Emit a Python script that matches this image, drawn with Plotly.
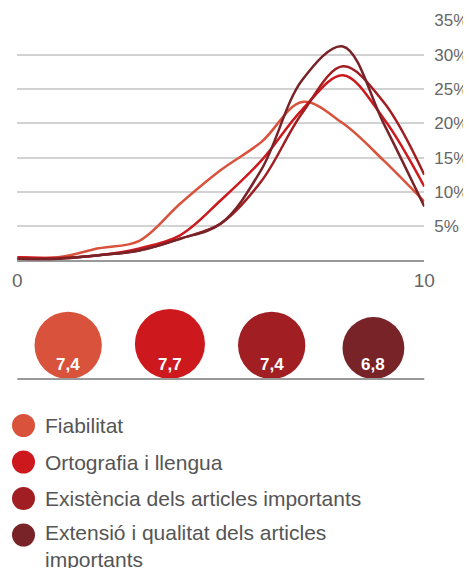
import plotly.graph_objects as go

# puntuacions 0..10 i percentatge de respostes
puntuacio = list(range(11))
fiabilitat = [0.5, 0.5, 1.8, 2.9, 8.3, 13.2, 17.3, 23.1, 20.0, 14.6, 8.6]
ortografia = [0.5, 0.4, 0.8, 1.8, 3.7, 8.8, 14.6, 22.0, 27.0, 20.7, 10.8]
existencia = [0.3, 0.3, 0.8, 1.5, 3.2, 5.4, 11.6, 21.5, 28.3, 23.1, 12.5]
extensio = [0.3, 0.3, 0.8, 1.5, 3.2, 5.4, 13.3, 26.3, 31.2, 20.0, 7.9]

noms = ['Fiabilitat', 'Ortografia i llengua', 'Existència dels articles importants',
        'Extensió i qualitat dels articles<br>importants']
mitjanes = [7.4, 7.7, 7.4, 6.8]
etiquetes_mitjana = ['7,4', '7,7', '7,4', '6,8']
y_ticks = [5, 10, 15, 20, 25, 30, 35]

colors = ['#d9523b', '#cd181d', '#a11e22', '#782328']
series = [fiabilitat, ortografia, existencia, extensio]

# la pagina te 8px de marge al body
OFF = 8
W, H = 471 - OFF, 568 - OFF
def px_x(p):
    return (p - OFF) / W
def px_y(p):
    return 1 - (p - OFF) / H

fig = go.Figure()
for s, c in zip(series, colors):
    fig.add_trace(go.Scatter(x=puntuacio, y=s, mode='lines', line=dict(color=c, width=2.5, shape='spline'),
                             showlegend=False, hoverinfo='skip'))

font = 'Liberation Sans, Arial, sans-serif'
x_dom = [px_x(17.3), px_x(424.3)]

fig.update_layout(
    width=W, height=H, margin=dict(l=0, r=0, t=0, b=0, autoexpand=False),
    paper_bgcolor='white', plot_bgcolor='white',
    font=dict(family=font, color='#666'),
    xaxis=dict(domain=x_dom, range=[0, 10], tickvals=[0, 10], ticktext=['0', '10'],
               showgrid=False, zeroline=False, showline=False, ticks='', automargin=False,
               tickfont=dict(size=19, color='#666'), ticklabelstandoff=6, fixedrange=True),
    yaxis=dict(domain=[px_y(260.7), px_y(20.3)], range=[0, 35], side='right', automargin=False,
               tickvals=y_ticks, ticktext=[f'{v}%' for v in y_ticks],
               showgrid=True, gridcolor='#d2d2d2', gridwidth=2,
               zeroline=True, zerolinecolor='#999', zerolinewidth=2,
               showline=False, ticks='', tickfont=dict(size=17, color='#666'),
               ticklabelstandoff=9, fixedrange=True),
    xaxis2=dict(domain=x_dom, range=[0, 4], visible=False, anchor='y2', automargin=False),
    yaxis2=dict(domain=[px_y(385), px_y(300)], range=[0, 1], visible=False, anchor='x2', automargin=False),
)

shapes = []
annotations = []
base = px_y(379)
for i, (v, lab, c) in enumerate(zip(mitjanes, etiquetes_mitjana, colors)):
    d = v * 9.1
    shapes.append(dict(type='circle', xref='x2', yref='paper', xsizemode='pixel', ysizemode='pixel',
                       xanchor=i + 0.5, x0=-d / 2, x1=d / 2, yanchor=base, y0=0, y1=d,
                       fillcolor=c, line=dict(width=0), layer='below'))
    annotations.append(dict(x=i + 0.5, y=px_y(364), xref='x2', yref='paper', text=f'<b>{lab}</b>',
                            showarrow=False, font=dict(size=17, color='white', family=font),
                            xanchor='center', yanchor='middle'))
shapes.append(dict(type='line', xref='paper', yref='paper', x0=x_dom[0], x1=x_dom[1], y0=base, y1=base,
                   line=dict(color='#999', width=2)))

# llegenda
leg_y = [425.5, 462, 498.5, 535]
for nom, c, yy in zip(noms, colors, leg_y):
    shapes.append(dict(type='circle', xref='paper', yref='paper', xsizemode='pixel', ysizemode='pixel',
                       xanchor=px_x(23.5), x0=-11.5, x1=11.5, yanchor=px_y(yy), y0=-11.5, y1=11.5,
                       fillcolor=c, line=dict(width=0)))
    multi = '<br>' in nom
    annotations.append(dict(x=px_x(43), y=px_y(yy - 16) if multi else px_y(yy), xref='paper', yref='paper',
                            text=nom, showarrow=False, align='left',
                            font=dict(size=21, color='#555', family=font),
                            xanchor='left', yanchor='top' if multi else 'middle'))

fig.update_layout(shapes=shapes, annotations=annotations)
fig.write_html('out.html')
